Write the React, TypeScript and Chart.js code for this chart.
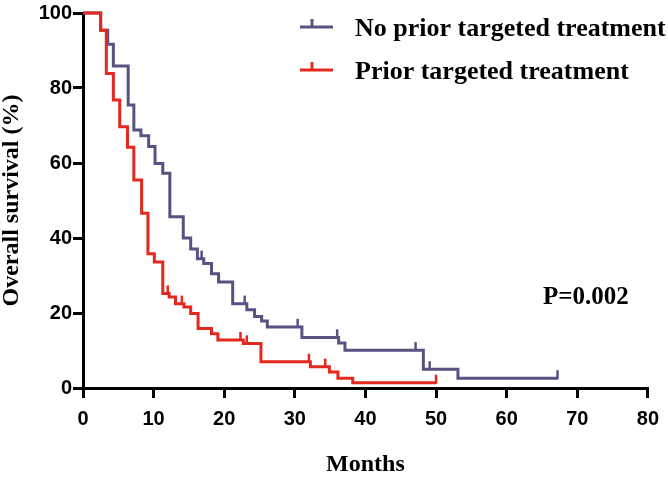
import React, { useEffect, useRef } from 'react';
import { Chart, registerables } from 'chart.js';

Chart.register(...registerables);

// ---- Data ----
const xTickValues = [0, 10, 20, 30, 40, 50, 60, 70, 80];
const yTickValues = [0, 20, 40, 60, 80, 100];

const seriesLabels = ['No prior targeted treatment', 'Prior targeted treatment'];
const seriesColors = ['#5a5183', '#e3281e'];

// No prior targeted treatment (months, survival %)
const noPriorTimes = [0, 2.5, 3.5, 4.3, 6.4, 7.2, 8.2, 9.3, 10.2, 11.3, 12.3, 14.2, 15.25, 16.2, 17.1, 18.2, 19.2, 21.2, 23.2, 24.3, 25.3, 26.1, 31.0, 36.2, 37.1, 48.2, 53.1, 67.2];
const noPriorSurvival = [100, 95.4, 91.7, 85.9, 75.5, 68.8, 67.3, 64.4, 59.9, 57.3, 45.7, 40.0, 37.1, 34.5, 33.2, 30.5, 28.3, 22.5, 20.9, 19.1, 17.9, 16.3, 13.5, 12.0, 10.1, 5.0, 2.6, 2.6];
const noPriorCensored = [16.8, 22.9, 30.4, 36.0, 47.1, 49.1, 67.2];

// Prior targeted treatment
const priorTimes = [0, 2.5, 3.3, 4.3, 5.2, 6.3, 7.2, 8.3, 9.2, 10.1, 11.3, 12.2, 13.1, 14.3, 15.25, 16.3, 18.2, 19.1, 22.7, 25.2, 32.2, 34.9, 36.1, 38.2, 50.0];
const priorSurvival = [100, 95.4, 83.9, 76.8, 69.7, 64.2, 55.5, 46.6, 35.8, 33.6, 25.2, 24.3, 22.5, 21.6, 19.9, 15.9, 14.5, 12.8, 11.9, 7.0, 5.7, 4.3, 2.6, 1.4, 1.4];
const priorCensored = [12.0, 14.0, 22.3, 23.2, 32.0, 34.3, 50.0];

const pValueText = 'P=0.002';

// ---- helpers ----
function toPoints(times: number[], surv: number[]) {
  return times.map((t, i) => ({ x: t, y: surv[i] }));
}
function levelAt(times: number[], surv: number[], t: number) {
  let v = surv[0];
  for (let i = 0; i < times.length; i++) if (times[i] <= t) v = surv[i];
  return v;
}
function censorPoints(cens: number[], times: number[], surv: number[]) {
  return cens.map((t) => ({ x: t, y: levelAt(times, surv, t) }));
}

const censorPlugin = {
  id: 'censorTicks',
  afterDatasetsDraw(chart: any) {
    const { ctx, scales } = chart;
    const xs = scales.x;
    const ys = scales.y;
    const sets = [...chart.data.datasets].sort((a: any, b: any) => (b.order ?? 0) - (a.order ?? 0));
    sets.forEach((ds: any) => {
      const cens = ds.censor || [];
      ctx.save();
      ctx.strokeStyle = ds.borderColor;
      ctx.lineWidth = 2.5;
      cens.forEach((c: any) => {
        const px = xs.getPixelForValue(c.x);
        const py = ys.getPixelForValue(c.y);
        ctx.beginPath();
        ctx.moveTo(px, py + 1);
        ctx.lineTo(px, py - 8);
        ctx.stroke();
      });
      ctx.restore();
    });
  },
};

const legendPlugin = {
  id: 'kmLegend',
  afterDraw(chart: any) {
    const { ctx } = chart;
    const rows = [
      { label: seriesLabels[0], color: seriesColors[0], y: 27 },
      { label: seriesLabels[1], color: seriesColors[1], y: 70 },
    ];
    ctx.save();
    rows.forEach((r) => {
      ctx.strokeStyle = r.color;
      ctx.lineWidth = 3;
      ctx.beginPath();
      ctx.moveTo(300, r.y);
      ctx.lineTo(333, r.y);
      ctx.moveTo(312, r.y);
      ctx.lineTo(312, r.y - 8);
      ctx.stroke();
      ctx.fillStyle = '#000';
      ctx.font = 'bold 26px "Liberation Serif"';
      ctx.textBaseline = 'middle';
      ctx.textAlign = 'left';
      ctx.fillText(r.label, 355, r.y + 2);
    });
    ctx.restore();
  },
};

const pValuePlugin = {
  id: 'pValue',
  afterDraw(chart: any) {
    const { ctx } = chart;
    ctx.save();
    ctx.fillStyle = '#000';
    ctx.font = 'bold 25px "Liberation Serif"';
    ctx.textBaseline = 'middle';
    ctx.textAlign = 'left';
    ctx.fillText(pValueText, 543, 298);
    ctx.restore();
  },
};

export default function App() {
  const ref = useRef<HTMLCanvasElement | null>(null);

  useEffect(() => {
    if (!ref.current) return;
    const tickFont = { family: 'Liberation Sans', weight: 'bold' as const, size: 20 };
    const titleFont = { family: 'Liberation Serif', weight: 'bold' as const, size: 24, lineHeight: 1 };
    const chart = new Chart(ref.current, {
      type: 'line',
      data: {
        datasets: [
          {
            label: seriesLabels[0],
            data: toPoints(noPriorTimes, noPriorSurvival),
            borderColor: seriesColors[0],
            backgroundColor: seriesColors[0],
            borderWidth: 3,
            stepped: 'before',
            pointRadius: 0,
            fill: false,
            order: 1,
            clip: 6,
            censor: censorPoints(noPriorCensored, noPriorTimes, noPriorSurvival),
          } as any,
          {
            label: seriesLabels[1],
            data: toPoints(priorTimes, priorSurvival),
            borderColor: seriesColors[1],
            backgroundColor: seriesColors[1],
            borderWidth: 3,
            stepped: 'before',
            pointRadius: 0,
            fill: false,
            order: 0,
            clip: 6,
            censor: censorPoints(priorCensored, priorTimes, priorSurvival),
          } as any,
        ],
      },
      options: {
        animation: false,
        responsive: false,
        devicePixelRatio: 1,
        layout: { padding: { top: 12, right: 15, left: 0, bottom: 0 } },
        plugins: { legend: { display: false }, tooltip: { enabled: false } },
        scales: {
          x: {
            type: 'linear',
            min: 0,
            max: 80,
            afterBuildTicks: (s: any) => { s.ticks = xTickValues.map((v) => ({ value: v })); },
            afterFit: (s: any) => { s.height = 89; },
            ticks: { color: '#000', font: tickFont, padding: 9, maxRotation: 0 },
            grid: { drawOnChartArea: false, drawTicks: true, tickLength: 10, color: '#000', lineWidth: 3 },
            border: { display: true, color: '#000', width: 3 },
            title: { display: true, text: 'Months', color: '#000', font: titleFont, padding: 0 },
          },
          y: {
            type: 'linear',
            min: 0,
            max: 100,
            afterBuildTicks: (s: any) => { s.ticks = yTickValues.map((v) => ({ value: v })); },
            afterFit: (s: any) => { s.width = 83; },
            ticks: { color: '#000', font: tickFont, padding: 1 },
            grid: { drawOnChartArea: false, drawTicks: true, tickLength: 10, color: '#000', lineWidth: 3 },
            border: { display: true, color: '#000', width: 3 },
            title: { display: true, text: 'Overall survival (%)', color: '#000', font: titleFont, padding: 0 },
          },
        },
      },
      plugins: [censorPlugin, legendPlugin, pValuePlugin],
    });
    return () => chart.destroy();
  }, []);

  return (
    <canvas
      ref={ref}
      width={668}
      height={477}
      style={{ position: 'absolute', left: 0, top: 0, width: 668, height: 477, display: 'block' }}
    />
  );
}
